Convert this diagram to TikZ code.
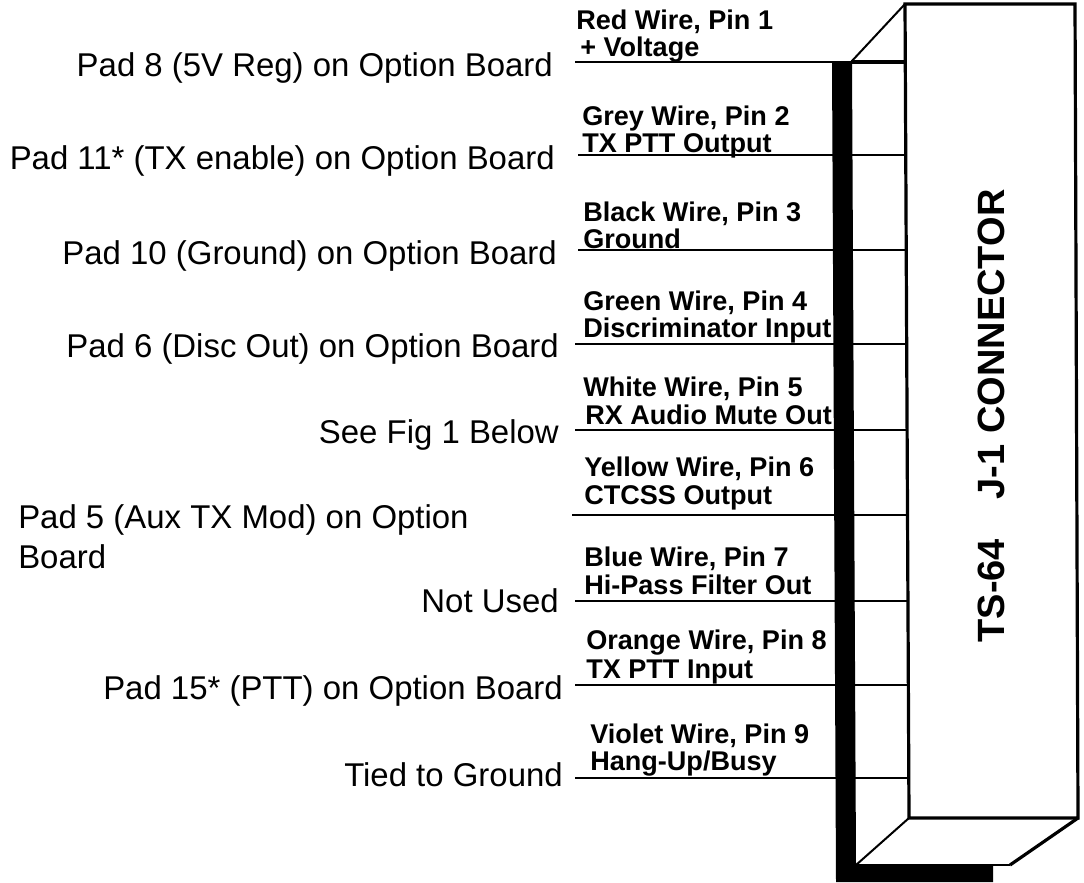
\documentclass[tikz,border=0pt]{standalone}
\usepackage{fontspec}
\setmainfont{Liberation Sans}
\tikzset{
  padlabel/.style={anchor=base east,inner sep=0pt,font=\fontsize{24.7}{25}\selectfont},
  wirelabel/.style={anchor=west,align=left,inner sep=0pt,font=\fontsize{20.3}{20}\selectfont\bfseries},
  wire/.style={line width=1.5pt},
  boxline/.style={line width=2.4pt,line join=miter}
}
\begin{document}
\begin{tikzpicture}[x=0.75pt,y=-0.75pt]
  \useasboundingbox (0,0) rectangle (1084,882);
  %
  % Connector body
  \coordinate (fronttl) at (905,4);
  \coordinate (fronttr) at (1075,4);
  \coordinate (frontbr) at (1078,818);
  \coordinate (frontbl) at (909,818);
  \coordinate (backtl) at (851,62);
  \coordinate (backbl) at (856,865);
  \coordinate (backbr) at (1010,865);
  \draw[boxline] (fronttl) -- (fronttr) -- (frontbr) -- (frontbl) -- cycle;
  \draw[wire] (backtl) -- (fronttl);
  \draw[wire] (backbl) -- (frontbl);
  \draw[boxline] (backbr) -- (frontbr);
  \draw[wire] (backbl) -- (backbr);
  %
  % Wires
  \coordinate (lone) at (575,62);     \coordinate (rone) at (906,62);
  \coordinate (ltwo) at (578,155);    \coordinate (rtwo) at (906,155);
  \coordinate (lthree) at (578,250);  \coordinate (rthree) at (906,250);
  \coordinate (lfour) at (575,344);   \coordinate (rfour) at (907,344);
  \coordinate (lfive) at (575,430);   \coordinate (rfive) at (907,430);
  \coordinate (lsix) at (572,515);    \coordinate (rsix) at (907,515);
  \coordinate (lseven) at (575,601);  \coordinate (rseven) at (908,601);
  \coordinate (leight) at (575,685);  \coordinate (reight) at (908,685);
  \coordinate (lnine) at (575,778);   \coordinate (rnine) at (909,778);
  \draw[wire] (lone) -- (rone);
  \draw[boxline] (backtl) -- (rone);
  \draw[wire] (ltwo) -- (rtwo);
  \draw[wire] (lthree) -- (rthree);
  \draw[wire] (lfour) -- (rfour);
  \draw[wire] (lfive) -- (rfive);
  \draw[wire] (lsix) -- (rsix);
  \draw[wire] (lseven) -- (rseven);
  \draw[wire] (leight) -- (reight);
  \draw[wire] (lnine) -- (rnine);
  %
  % Heavy black strap
  \fill (832,62) -- (852,62) -- (856,865) -- (993,865) -- (993,882) -- (836,882) -- cycle;
  %
  % Pad labels
  \node[padlabel] (padone) at (553,76) {Pad 8 (5V Reg) on Option Board};
  \node[padlabel] (padtwo) at (555,169) {Pad 11* (TX enable) on Option Board};
  \node[padlabel] (padthree) at (557,264) {Pad 10 (Ground) on Option Board};
  \node[padlabel] (padfour) at (559,357) {Pad 6 (Disc Out) on Option Board};
  \node[padlabel] (padfive) at (559,443) {See Fig 1 Below};
  \node[padlabel,anchor=west,align=left] (padsix) at (18,537) {Pad 5 (Aux TX Mod) on Option\\[5pt]Board};
  \node[padlabel] (padseven) at (559,612) {Not Used};
  \node[padlabel] (padeight) at (563,699) {Pad 15* (PTT) on Option Board};
  \node[padlabel] (padnine) at (563,786) {Tied to Ground};
  %
  % Wire labels
  \node[wirelabel] (labone) at (576,36) {Red Wire, Pin 1\\\hspace*{3pt}+ Voltage};
  \node[wirelabel] (labtwo) at (582,132) {Grey Wire, Pin 2\\TX PTT Output};
  \node[wirelabel] (labthree) at (583,225) {Black Wire, Pin 3\\Ground};
  \node[wirelabel] (labfour) at (583,317) {Green Wire, Pin 4\\Discriminator Input};
  \node[wirelabel] (labfive) at (583,401) {White Wire, Pin 5\\[1pt]\hspace*{1.5pt}RX Audio Mute Out};
  \node[wirelabel] (labsix) at (584,483) {Yellow Wire, Pin 6\\[1pt]CTCSS Output};
  \node[wirelabel] (labseven) at (584,571) {Blue Wire, Pin 7\\[1pt]Hi-Pass Filter Out};
  \node[wirelabel] (labeight) at (586,657) {Orange Wire, Pin 8\\[1.5pt]TX PTT Input};
  \node[wirelabel] (labnine) at (590,750) {Violet Wire, Pin 9\\Hang-Up/Busy};
  %
  % Connector name
  \node[rotate=90,inner sep=0pt,font=\fontsize{28.5}{32}\selectfont\bfseries] (connname) at (991,416)
    {TS-64\hspace{1.05em}J-1 CONNECTOR};
  %
\end{tikzpicture}
\end{document}
